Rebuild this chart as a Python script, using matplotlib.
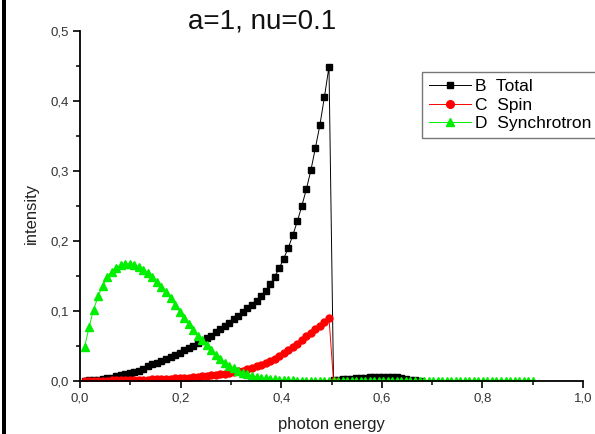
import numpy as np
import matplotlib
matplotlib.use("Agg")
import matplotlib.pyplot as plt
from matplotlib.ticker import MultipleLocator, FuncFormatter
from matplotlib.patches import Rectangle

plt.rcParams['font.family'] = ['Liberation Sans', 'DejaVu Sans']

# photon energy grid (step 0.009)
step = 0.009

total = [0.0005, 0.001, 0.0015, 0.002, 0.003, 0.004, 0.005, 0.0065, 0.008, 0.0095,
         0.011, 0.013, 0.015, 0.017, 0.021, 0.024, 0.026, 0.029, 0.031, 0.034,
         0.037, 0.040, 0.044, 0.047, 0.050, 0.054, 0.057, 0.061, 0.065, 0.070,
         0.074, 0.078, 0.083, 0.088, 0.093, 0.098, 0.104, 0.109, 0.115, 0.121,
         0.128, 0.138, 0.149, 0.161, 0.175, 0.190, 0.208, 0.228, 0.250, 0.274,
         0.301, 0.333, 0.366, 0.406, 0.449, 0.001, 0.002, 0.0025, 0.003, 0.0035,
         0.004, 0.0045, 0.005, 0.0052, 0.0055, 0.0057, 0.0058, 0.0058, 0.0057, 0.0053,
         0.0045, 0.0035, 0.002, 0.001, 0.0]

spin = [0.0002, 0.0003, 0.0004, 0.0005, 0.0006, 0.0007, 0.0008, 0.0009, 0.001, 0.0011,
        0.0012, 0.0014, 0.0016, 0.0018, 0.002, 0.0022, 0.0024, 0.0027, 0.003, 0.0033,
        0.0036, 0.004, 0.0044, 0.0049, 0.0054, 0.006, 0.0066, 0.0073, 0.008, 0.0088,
        0.0096, 0.0105, 0.0115, 0.0126, 0.0138, 0.015, 0.017, 0.019, 0.021, 0.0235,
        0.026, 0.029, 0.032, 0.036, 0.040, 0.044, 0.048, 0.053, 0.058, 0.064,
        0.069, 0.074, 0.079, 0.084, 0.090, 0.0]

synchrotron = [0.048, 0.077, 0.102, 0.121, 0.136, 0.148, 0.156, 0.162, 0.1655, 0.1675,
               0.167, 0.1655, 0.163, 0.159, 0.154, 0.148, 0.142, 0.135, 0.127, 0.118,
               0.109, 0.099, 0.090, 0.081, 0.073, 0.065, 0.058, 0.051, 0.044, 0.037,
               0.031, 0.026, 0.022, 0.018, 0.015, 0.012, 0.0095, 0.0075, 0.006, 0.0047,
               0.0037, 0.0029, 0.0022, 0.0017, 0.0013, 0.001, 0.0008, 0.0006, 0.0005, 0.0004,
               0.0003, 0.0003, 0.0002, 0.0002, 0.0002, 0.0001, 0.0001, 0.0001, 0.0001, 0.0001,
               0.0, 0.0, 0.0, 0.0, 0.0, 0.0, 0.0, 0.0, 0.0, 0.0,
               0.0, 0.0, 0.0, 0.0, 0.0, 0.0, 0.0, 0.0, 0.0, 0.0,
               0.0, 0.0, 0.0, 0.0, 0.0, 0.0, 0.0, 0.0, 0.0, 0.0,
               0.0, 0.0, 0.0, 0.0, 0.0, 0.0, 0.0, 0.0, 0.0, 0.0]

labels = ["B  Total", "C  Spin", "D  Synchrotron"]


def grid(values):
    return np.round(step * np.arange(1, len(values) + 1), 4)


fig = plt.figure(figsize=(5.95, 4.34), dpi=100)
ax = fig.add_axes([80 / 595, 53 / 434, 503 / 595, 350 / 434])

ax.plot(grid(total), total, color='black', lw=0.7, marker='s', ms=4.4,
        mec='black', mfc='black', label=labels[0])
ax.plot(grid(spin), spin, color='#ff0000', lw=0.7, marker='o', ms=5.0,
        mec='#ff0000', mfc='#ff0000', label=labels[1])
ax.plot(grid(synchrotron), synchrotron, color='#00ee00', lw=0.7, marker='^', ms=5.6,
        mec='#00ee00', mfc='#00ee00', label=labels[2])

ax.set_xlim(0, 1.0)
ax.set_ylim(0, 0.5)
ax.xaxis.set_major_locator(MultipleLocator(0.2))
ax.xaxis.set_minor_locator(MultipleLocator(0.1))
ax.yaxis.set_major_locator(MultipleLocator(0.1))
ax.yaxis.set_minor_locator(MultipleLocator(0.05))
comma = FuncFormatter(lambda v, p: f"{v:.1f}".replace('.', ','))
ax.xaxis.set_major_formatter(comma)
ax.yaxis.set_major_formatter(comma)
ax.tick_params(which='major', direction='out', length=5, width=1.2,
               labelsize=9.5, labelcolor='#333333', pad=3)
ax.tick_params(which='minor', direction='out', length=3, width=1.1)
for side in ('top', 'right'):
    ax.spines[side].set_visible(False)
for side in ('left', 'bottom'):
    ax.spines[side].set_linewidth(1.3)

fig.text(262 / 595, 1 - 22 / 434, "a=1, nu=0.1", fontsize=20,
         ha='center', va='center', color='#111111')
fig.text(331 / 595, 1 - 424 / 434, "photon energy", fontsize=12,
         ha='center', va='center', color='#222222')
fig.text(31 / 595, 1 - 213 / 434, "intensity", fontsize=12, rotation=90,
         ha='center', va='center', color='#222222')

leg = fig.legend(loc='upper left', bbox_to_anchor=(422 / 595, 1 - 72 / 434),
                 bbox_transform=fig.transFigure, fontsize=12.5, frameon=True,
                 fancybox=False, edgecolor='#555555', handlelength=2.4,
                 handletextpad=0.25, labelspacing=0.2, borderpad=0.4,
                 borderaxespad=0, markerscale=1.1)
leg.get_frame().set_linewidth(1.0)

# dark band along the left edge
fig.add_artist(Rectangle((2 / 595, 0), 4 / 595, 1, transform=fig.transFigure,
                         color='black', lw=0))

fig.savefig("out.png", dpi=100)
